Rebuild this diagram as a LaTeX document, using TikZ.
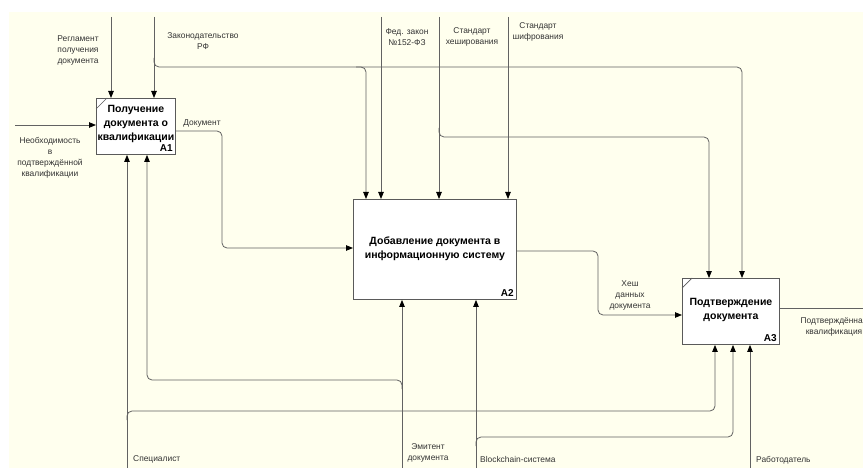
\documentclass[tikz,border=0pt]{standalone}
\usepackage{fontspec}
\setmainfont{Liberation Sans}
\usetikzlibrary{arrows.meta,calc}
\definecolor{bgc}{HTML}{FFFFEE}
\definecolor{linec}{HTML}{626262}
\definecolor{boxc}{HTML}{5A5A5A}
\definecolor{textc}{HTML}{333333}
\newcommand\lblfont{\fontsize{8.4}{11}\selectfont}
\newcommand\titlefont{\fontsize{10.5}{14}\selectfont\bfseries}
\newcommand\alfont{\fontsize{10}{12}\selectfont\bfseries}
\tikzset{
  fnbox/.style={draw=boxc, fill=white, line width=0.9pt, inner sep=1pt, align=center, font=\titlefont, text=black, anchor=north west},
  conn/.style={draw=linec, line width=0.8pt, rounded corners=5pt},
  arr/.style={conn, -{Triangle[length=7pt,width=5.5pt,color=black]}},
  lbl/.style={font=\lblfont, text=textc, align=center, inner sep=0pt},
  alabel/.style={font=\alfont, text=black, inner sep=0pt, anchor=south east},
  corner/.style={draw=boxc, line width=0.7pt}
}
\begin{document}
\begin{tikzpicture}[x=1pt,y=-1pt]
\useasboundingbox (0,0) rectangle (863,468);
\fill[bgc] (9,12) rectangle (863,468);

% boxes
\node[fnbox, minimum width=79pt, minimum height=56pt, text depth=8pt] (A1) at (96,98) {Получение\\документа о\\квалификации};
\node[fnbox, minimum width=163pt, minimum height=100pt, text depth=4pt] (A2) at (353,199) {Добавление документа в\\информационную систему};
\node[fnbox, minimum width=97pt, minimum height=66pt, text depth=5pt] (A3) at (682,278) {Подтверждение\\документа};
\node[alabel] (A1l) at ($(A1.south east)+(-3,-3)$) {A1};
\node[alabel] (A2l) at ($(A2.south east)+(-3,-3)$) {A2};
\node[alabel] (A3l) at ($(A3.south east)+(-3,-3)$) {A3};
\draw[corner] ($(A1.north west)+(0,11)$) -- ($(A1.north west)+(11,0)$);
\draw[corner] ($(A3.north west)+(0,10)$) -- ($(A3.north west)+(10,0)$);

% free ends and turn points
\coordinate (in1) at (15,125);
\coordinate (c1) at (111,17);
\coordinate (c2) at (154,17);
\coordinate (c3) at (381,17);
\coordinate (c4) at (439,17);
\coordinate (c5) at (508,17);
\coordinate (m1) at (127,468);
\coordinate (m2) at (402,468);
\coordinate (m3) at (476,468);
\coordinate (m4) at (750,468);
\coordinate (out3) at (866,308);

% input
\draw[arr] (in1) -- (in1 -| A1.west);
% controls
\draw[arr] (c1) -- (c1 |- A1.north);
\draw[arr] (c2) -- (c2 |- A1.north);
\draw[arr] (c3) -- (c3 |- A2.north);
\draw[arr] (c4) -- (c4 |- A2.north);
\draw[arr] (c5) -- (c5 |- A2.north);
\draw[arr] (154,58) -- (154,67) -- (742,67) -- (742,67 |- A3.north);
\draw[arr] (356,67) -- (366,67) -- (366,67 |- A2.north);
\draw[arr] (439,128) -- (439,137) -- (709,137) -- (709,137 |- A3.north);
% outputs
\draw[arr] (A1.east |- 0,131) -- (222,131) -- (222,248) -- (A2.west |- 0,248);
\draw[arr] (A2.east |- 0,251) -- (598,251) -- (598,315) -- (A3.west |- 0,315);
\draw[conn] (A3.east |- out3) -- (out3);
% mechanisms
\draw[arr] (m1) -- (m1 |- A1.south);
\draw[arr] (127,420) -- (127,411) -- (715,411) -- (715,411 |- A3.south);
\draw[arr] (m2) -- (m2 |- A2.south);
\draw[arr] (402,389) -- (402,380) -- (147,380) -- (147,380 |- A1.south);
\draw[arr] (m3) -- (m3 |- A2.south);
\draw[arr] (476,446) -- (476,437) -- (733,437) -- (733,437 |- A3.south);
\draw[arr] (m4) -- (m4 |- A3.south);

% labels
\node[lbl] (l1) at (78,50) {Регламент\\получения\\документа};
\node[lbl] (l2) at (203,41) {Законодательство\\РФ};
\node[lbl] (l3) at (50,158) {Необходимость\\в\\подтверждённой\\квалификации};
\node[lbl] (l4) at (202,123) {Документ};
\node[lbl] (l5) at (407,37) {Фед. закон\\№152-ФЗ};
\node[lbl] (l6) at (472,37) {Стандарт\\хеширования};
\node[lbl] (l7) at (538,32) {Стандарт\\шифрования};
\node[lbl] (l8) at (630,295) {Хеш\\данных\\документа};
\node[lbl] (l9) at (834,327) {Подтверждённая\\квалификация};
\node[lbl, anchor=west] (l10) at (133,459) {Специалист};
\node[lbl] (l11) at (428,453) {Эмитент\\документа};
\node[lbl, anchor=west] (l12) at (480,459) {Blockchain-система};
\node[lbl, anchor=west] (l13) at (756,460) {Работодатель};
\end{tikzpicture}
\end{document}
